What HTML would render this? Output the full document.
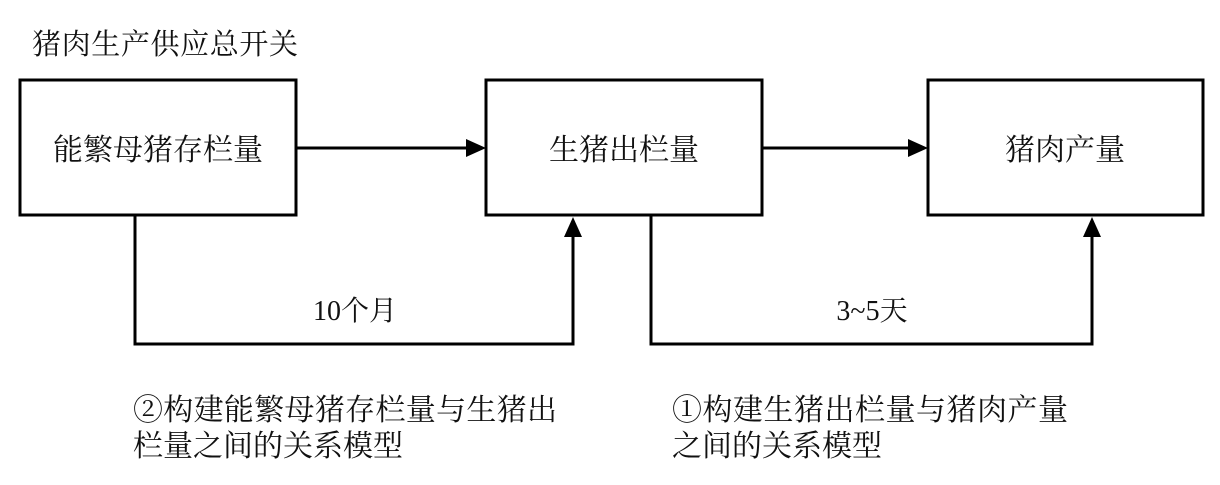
<!DOCTYPE html>
<html><head><meta charset="utf-8"><style>
body{margin:0;width:1220px;height:480px;background:#fff;overflow:hidden}
svg text{font-family:"Liberation Serif","Noto Serif CJK SC","Noto Sans CJK SC",serif;fill:#111}
</style></head><body>
<svg width="1220" height="480" viewBox="0 0 1220 480">
<g fill="none" stroke="#000" stroke-width="3">
<rect x="20" y="80" width="276" height="135"/>
<rect x="486" y="80" width="276" height="135"/>
<rect x="928" y="80" width="275" height="135"/>
<line x1="296" y1="148" x2="468" y2="148"/>
<line x1="762" y1="148" x2="910" y2="148"/>
<polyline points="135,215 135,344 573,344 573,235"/>
<polyline points="651,215 651,344 1092,344 1092,235"/>
</g>
<g fill="#000">
<polygon points="486,148 466,139 466,157"/>
<polygon points="928,148 908,139 908,157"/>
<polygon points="573,217 564,237 582,237"/>
<polygon points="1092,217 1083,237 1101,237"/>
</g>
<text x="32" y="54" font-size="29" textLength="266">猪肉生产供应总开关</text>
<text x="158" y="160" font-size="30" text-anchor="middle">能繁母猪存栏量</text>
<text x="624" y="160" font-size="30" text-anchor="middle">生猪出栏量</text>
<text x="1065" y="160" font-size="30" text-anchor="middle">猪肉产量</text>
<text x="355" y="320" font-size="28" text-anchor="middle">10个月</text>
<text x="872" y="320" font-size="28" text-anchor="middle">3~5天</text>
<text x="133" y="420" font-size="30" textLength="424">②构建能繁母猪存栏量与生猪出</text>
<text x="133" y="456" font-size="30">栏量之间的关系模型</text>
<text x="672" y="420" font-size="30" textLength="396">①构建生猪出栏量与猪肉产量</text>
<text x="672" y="456" font-size="30">之间的关系模型</text>
</svg>
</body></html>
